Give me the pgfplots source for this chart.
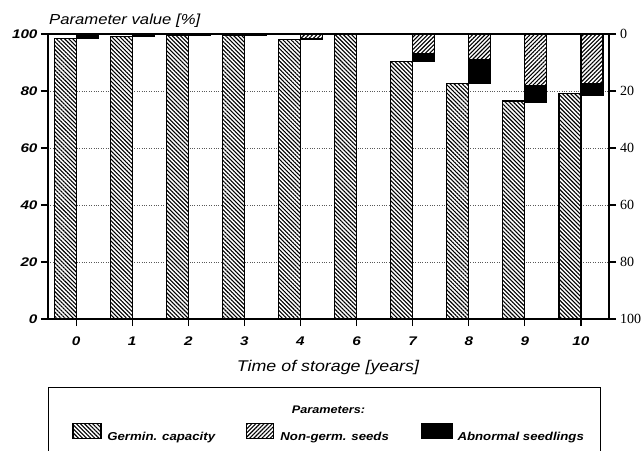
\documentclass[border=0pt]{standalone}
\usepackage{fontspec}
\usepackage{pgfplots}
\pgfplotsset{compat=1.18}
\usetikzlibrary{patterns.meta}
\newfontfamily\labfont[FakeStretch=1.15]{Liberation Sans}
\newfontfamily\tickfont[FakeStretch=1.22]{Liberation Sans}
\newfontfamily\serfont{Liberation Serif}
\tikzset{
  germ/.style={draw=black, line width=1.1pt, preaction={fill=white}, pattern={Lines[angle=-45,distance=2.9pt,line width=1.1pt]}},
  nong/.style={draw=black, line width=1.1pt, preaction={fill=white}, pattern={Lines[angle=45,distance=2.9pt,line width=1.1pt]}},
  abn/.style={draw=black, line width=1.1pt, fill=black},
}
\begin{document}
\begin{tikzpicture}
\useasboundingbox (0pt,0pt) rectangle (642pt,450pt);
\begin{axis}[
  at={(48pt,131pt)}, anchor=south west,
  scale only axis, width=561pt, height=285pt,
  xmin=-0.5, xmax=9.5, ymin=0, ymax=100,
  xtick={0,...,9}, xticklabels={0,1,2,3,4,6,7,8,9,10},
  ytick={0,20,40,60,80,100},
  xtick pos=lower, ytick pos=left,
  tick align=outside, major tick length=7pt,
  axis line style={line width=1.1pt},
  every tick/.style={black, line width=1.1pt},
  ymajorgrids, grid style={black!65, line width=0.8pt, dash pattern=on 0.8pt off 1.6pt},
  ybar, bar width=22pt,
  ticklabel style={font=\tickfont\bfseries\itshape\fontsize{12.5}{14}\selectfont},
  xticklabel style={yshift=-7pt},
  /pgf/number format/assume math mode=true,
  clip=false,
]
\addplot[germ, bar shift=-11pt] coordinates {
  (0,98.5) (1,99) (2,99.5) (3,99.5) (4,98) (5,100) (6,90.5) (7,82.5) (8,76.5) (9,79)};
\end{axis}
\begin{axis}[
  at={(48pt,131pt)}, anchor=south west,
  scale only axis, width=561pt, height=285pt,
  xmin=-0.5, xmax=9.5, ymin=0, ymax=100, y dir=reverse,
  axis x line=none, axis y line*=right,
  ytick={0,20,40,60,80,100},
  tick align=outside, major tick length=7pt,
  axis line style={line width=1.1pt},
  every tick/.style={black, line width=1.1pt},
  ybar stacked, bar width=22pt, bar shift=11pt,
  ticklabel style={font=\serfont\fontsize{14}{16}\selectfont},
  yticklabel style={xshift=0.5pt},
  /pgf/number format/assume math mode=true,
  clip=false,
  legend style={at={(0.0428,-0.398)}, anchor=west, draw=none, fill=none,
    inner sep=0pt, nodes={inner sep=0pt},
    font=\labfont\bfseries\itshape\fontsize{11.5}{13}\selectfont},
  legend columns=3, legend cell align=left,
]
\addlegendimage{legend image code/.code={\draw[germ] (0pt,-1pt) rectangle (28pt,14pt);}}
\addlegendentry{\hspace*{6pt}\makebox[139pt][l]{Germin. capacity}}
\addplot[nong, bar shift=11pt, legend image code/.code={\draw[nong] (0pt,-1pt) rectangle (27pt,14pt);}] coordinates {
  (0,0.5) (1,0.3) (2,0.3) (3,0.2) (4,1.5) (5,0) (6,6.7) (7,8.8) (8,18.2) (9,17.5)};
\addlegendentry{\hspace*{6pt}\makebox[141pt][l]{Non-germ. seeds}}
\addplot[abn, bar shift=11pt, legend image code/.code={\draw[abn] (0pt,-1pt) rectangle (30pt,14pt);}] coordinates {
  (0,1.0) (1,0.7) (2,0.2) (3,0.3) (4,0.5) (5,0) (6,2.8) (7,8.4) (8,5.7) (9,3.9)};
\addlegendentry{\hspace*{5pt}Abnormal seedlings}
\end{axis}
\node[anchor=base west, inner sep=0pt, font=\labfont\itshape\fontsize{14.5}{17}\selectfont] at (49pt,425pt) {Parameter value [\%]};
\node[anchor=base, inner sep=0pt, font=\labfont\itshape\fontsize{15.5}{18}\selectfont] at (328pt,79pt) {Time of storage [years]};
\node[anchor=base, inner sep=0pt, font=\labfont\bfseries\itshape\fontsize{11}{13}\selectfont] at (328.5pt,37pt) {Parameters:};
\draw[line width=1pt] (48pt,-10pt) -- (48pt,63pt) -- (600pt,63pt) -- (600pt,-10pt);
\end{tikzpicture}
\end{document}
